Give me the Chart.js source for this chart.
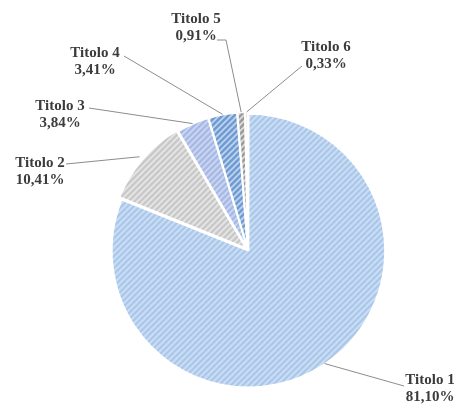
<!DOCTYPE html>
<html>
<head>
<meta charset="utf-8">
<script src="https://cdn.jsdelivr.net/npm/chart.js@4/dist/chart.umd.min.js"></script>
<style>
    body { margin: 0; background: #fff; }
    #wrap { width: 461px; height: 407px; }
</style>
</head>
<body>
<div id="wrap"><canvas id="pieChart"></canvas></div>
<script>
const labels = ['Titolo 1', 'Titolo 2', 'Titolo 3', 'Titolo 4', 'Titolo 5', 'Titolo 6'];
const values = [81.10, 10.41, 3.84, 3.41, 0.91, 0.33];

// base colour + stripe colour for each hatched slice
const baseColors = ['#a8c6ea', '#c6c6c6', '#a5b8e5', '#6e9ad3', '#9c9c9c', '#cacaca'];
const stripeColors = ['#d6e5f7', '#ededed', '#d2dcf4', '#c6d9f0', '#e0e0e0', '#f0f0f0'];
const sliceOffsets = [3, 9, 4, 4, 4, 4];

// where each label sits: text centre x, first line y, and end of leader line
const labelLayout = [
    { x: 430, y: 380, ax: 404, ay: 386 },
    { x: 40, y: 163, ax: 66, ay: 164 },
    { x: 60, y: 106, ax: 89, ay: 108 },
    { x: 95, y: 53, ax: 124, ay: 56 },
    { x: 196, y: 19, ax: 217, ay: 40, elbowX: 226 },
    { x: 326, y: 47, ax: 302, ay: 66 }
];

function makeHatch(base, stripe) {
    const s = 6;
    const c = document.createElement('canvas');
    c.width = s;
    c.height = s;
    const g = c.getContext('2d');
    g.fillStyle = base;
    g.fillRect(0, 0, s, s);
    g.strokeStyle = stripe;
    g.lineWidth = 1.6;
    g.beginPath();
    g.moveTo(0, s); g.lineTo(s, 0);
    g.moveTo(-2, 2); g.lineTo(2, -2);
    g.moveTo(s - 2, s + 2); g.lineTo(s + 2, s - 2);
    g.stroke();
    return g.createPattern(c, 'repeat');
}

const fmt = v => v.toFixed(2).replace('.', ',') + '%';

const leaderLabels = {
    id: 'leaderLabels',
    afterDatasetsDraw(chart) {
        const ctx = chart.ctx;
        const arcs = chart.getDatasetMeta(0).data;
        ctx.save();
        arcs.forEach((arc, i) => {
            const lay = labelLayout[i];
            const mid = (arc.startAngle + arc.endAngle) / 2;
            const r = arc.outerRadius + (arc.options.offset || 0) - 2;
            const px = arc.x + Math.cos(mid) * r;
            const py = arc.y + Math.sin(mid) * r;

            ctx.strokeStyle = '#8c8c8c';
            ctx.lineWidth = 1;
            ctx.beginPath();
            ctx.moveTo(lay.ax, lay.ay);
            if (lay.elbowX) ctx.lineTo(lay.elbowX, lay.ay);
            ctx.lineTo(px, py);
            ctx.stroke();

            ctx.fillStyle = '#3c3c3c';
            ctx.font = 'bold 15px "Liberation Serif", serif';
            ctx.textAlign = 'center';
            ctx.textBaseline = 'middle';
            ctx.fillText(labels[i], lay.x, lay.y);
            ctx.fillText(fmt(values[i]), lay.x, lay.y + 17);
        });
        ctx.restore();
    }
};

const ctx = document.getElementById('pieChart').getContext('2d');
new Chart(ctx, {
    type: 'pie',
    data: {
        labels: labels,
        datasets: [{
            data: values,
            backgroundColor: baseColors.map((b, i) => makeHatch(b, stripeColors[i])),
            borderColor: '#ffffff',
            borderWidth: 2,
            offset: sliceOffsets,
            radius: 136,
            clip: false
        }]
    },
    options: {
        responsive: true,
        maintainAspectRatio: false,
        animation: false,
        events: [],
        layout: { padding: { left: 40, right: 5, top: 98, bottom: 5 } },
        plugins: {
            legend: { display: false },
            tooltip: { enabled: false }
        }
    },
    plugins: [leaderLabels]
});
</script>
</body>
</html>
